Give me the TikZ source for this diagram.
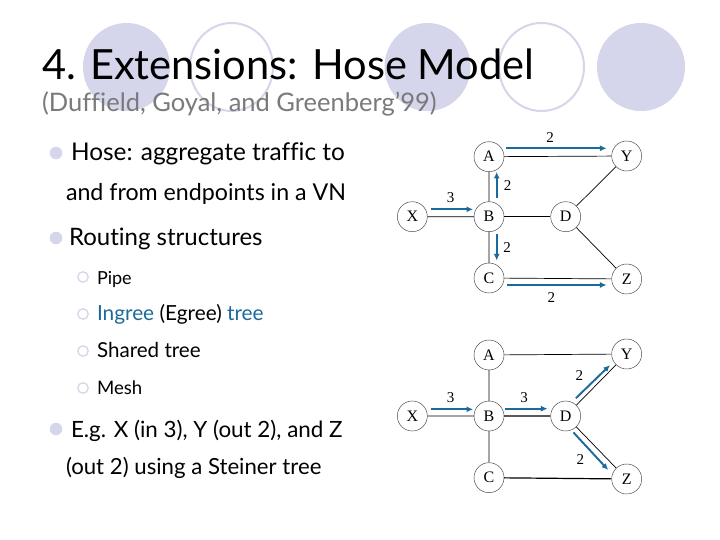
\documentclass[tikz,border=0pt]{standalone}
\usepackage{fontspec}
\setmainfont{Lato}[Ligatures=NoCommon]
\newfontfamily\serifnet{Liberation Serif}
\usetikzlibrary{arrows.meta}
\definecolor{deco}{HTML}{D5D5EB}
\definecolor{flowblue}{HTML}{1C6A9C}
\definecolor{subgray}{HTML}{7A7A7A}
\newcommand{\fsz}[1]{\fontsize{#1}{#1}\selectfont}
\tikzset{
  txt/.style={anchor=base west,inner sep=0pt,outer sep=0pt,text=black},
  bul/.style={circle,fill=deco,minimum size=12.5pt,inner sep=0pt},
  subbul/.style={circle,draw=deco,line width=1.3pt,minimum size=10.5pt,inner sep=0pt},
  router/.style={circle,draw=black!75,line width=0.45pt,minimum size=30pt,inner sep=0pt,font=\serifnet\fsz{16}},
  edge/.style={draw=black,line width=0.7pt},
  hedge/.style={draw=black,line width=1.2pt},
  flow/.style={draw=flowblue,line width=1.9pt,-{Latex[length=6.5pt,width=6pt]}},
  num/.style={inner sep=0pt,font=\serifnet\fsz{15}},
}
\begin{document}
\begin{tikzpicture}[x=1pt,y=-1pt]
\useasboundingbox (0,0) rectangle (720,540);
\fill[white] (0,0) rectangle (720,540);
% decoration
\fill[deco] (126.5,67) ellipse [x radius=43.5,y radius=44];
\draw[deco,line width=2pt] (231.5,67) ellipse [x radius=41.5,y radius=44];
\fill[deco] (427.5,67) ellipse [x radius=43,y radius=44];
\draw[deco,line width=2pt] (541.5,67) ellipse [x radius=42.5,y radius=44];
\fill[deco] (641,67) ellipse [x radius=44,y radius=44];
% title
\node[txt,font=\fsz{41.6}] (title) at (42,80) {4. Extensions: Hose Model};
\node[txt,text=subgray,font=\fsz{25.5}] (sub) at (42,112) {(Duffield, Goyal, and Greenberg’99)};
% body
\node[bul] (b1) at (56,153) {};
\node[txt,font=\fsz{24.4}] (t1) at (71,161) {Hose: aggregate traffic to};
\node[txt,font=\fsz{23.2}] (t1b) at (66,201) {and from endpoints in a VN};
\node[bul] (b2) at (56,238) {};
\node[txt,font=\fsz{24}] (t2) at (69,245) {Routing structures};
\node[subbul] (s1) at (83,277) {};
\node[txt,font=\fsz{18}] (p1) at (97,284) {Pipe};
\node[subbul] (s2) at (83,314) {};
\node[txt,font=\fsz{20.8}] (p2) at (97,320) {\textcolor{flowblue}{Ingree} (Egree) \textcolor{flowblue}{tree}};
\node[subbul] (s3) at (83,351) {};
\node[txt,font=\fsz{20.6}] (p3) at (97,357) {Shared tree};
\node[subbul] (s4) at (83,388) {};
\node[txt,font=\fsz{18.6}] (p4) at (97,394) {Mesh};
\node[bul] (b3) at (56,429) {};
\node[txt,font=\fsz{22.4}] (t3) at (71,437) {E.g. X (in 3), Y (out 2), and Z};
\node[txt,font=\fsz{22.2}] (t3b) at (66,474) {(out 2) using a Steiner tree};
% top network
\node[router] (A) at (489,156.7) {A};
\node[router] (Y) at (626.7,156) {Y};
\node[router] (X) at (412.3,216.7) {X};
\node[router] (B) at (489,216.7) {B};
\node[router] (D) at (565.7,216.7) {D};
\node[router] (C) at (489,278) {C};
\node[router] (Z) at (626.7,279) {Z};
\draw[edge] (A)--(Y) (A)--(B) (X)--(B) (B)--(C) (D)--(Y) (D)--(Z) (C)--(Z);
\draw[hedge] (B)--(D);
\draw[flow] ([shift={(2pt,8.4pt)}]A.east) -- ([shift={(-5pt,7.7pt)}]Y.west);
\draw[flow] ([shift={(3.4pt,7.4pt)}]X.east) -- ([shift={(-0.7pt,7.4pt)}]B.west);
\draw[flow] ([shift={(7.7pt,3.3pt)}]B.north) -- ([shift={(7.7pt,0pt)}]A.south);
\draw[flow] ([shift={(7.7pt,-2.3pt)}]B.south) -- ([shift={(7.7pt,2.3pt)}]C.north);
\draw[flow] ([shift={(2.7pt,-7pt)}]C.east) -- ([shift={(-5pt,-6pt)}]Z.west);
\node[num] (n1) at (550,137.3) {2};
\node[num] (n2) at (507.7,185.7) {2};
\node[num] (n3) at (450.7,197.3) {3};
\node[num] (n4) at (507,247.3) {2};
\node[num] (n5) at (551.3,297.3) {2};
% bottom network
\node[router] (A2) at (489,355) {A};
\node[router] (Y2) at (626.7,354) {Y};
\node[router] (X2) at (412.3,416) {X};
\node[router] (B2) at (489,416) {B};
\node[router] (D2) at (565.7,416) {D};
\node[router] (C2) at (489,477.7) {C};
\node[router] (Z2) at (626.7,479) {Z};
\draw[edge] (A2)--(Y2) (A2)--(B2) (X2)--(B2) (B2)--(C2) (D2)--(Y2) (D2)--(Z2);
\draw[hedge] (B2)--(D2) (C2)--(Z2);
\draw[flow] ([shift={(3.4pt,6.7pt)}]X2.east) -- ([shift={(-0.7pt,6.7pt)}]B2.west);
\draw[flow] ([shift={(1pt,7.3pt)}]B2.east) -- ([shift={(-3pt,7.3pt)}]D2.west);
\draw[flow] ([shift={(-0.6pt,7pt)}]D2.north east) -- ([shift={(-6pt,-0.4pt)}]Y2.south west);
\draw[flow] ([shift={(-3pt,-5.7pt)}]D2.south east) -- ([shift={(-7.8pt,-1.7pt)}]Z2.north west);
\node[num] (m1) at (450.7,397.3) {3};
\node[num] (m2) at (524,397.3) {3};
\node[num] (m3) at (579.3,375.7) {2};
\node[num] (m4) at (580.3,459.3) {2};
\end{tikzpicture}
\end{document}
